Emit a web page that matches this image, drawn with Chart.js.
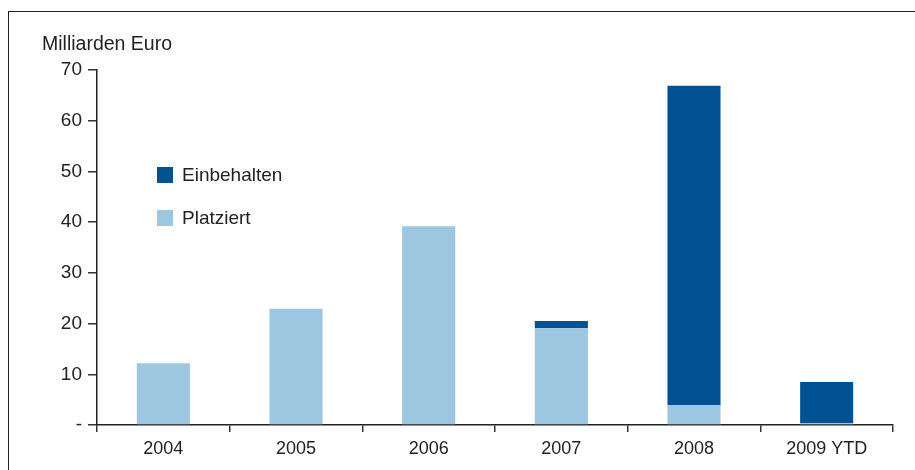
<!DOCTYPE html>
<html>
<head>
<meta charset="utf-8">
<script src="https://cdn.jsdelivr.net/npm/chart.js@4"></script>
<style>
  body { margin: 0; background: #fff; font-family: "Liberation Sans", Arial, sans-serif; color: #222; }
  #wrap { position: relative; width: 915px; height: 470px; overflow: hidden; }
  #frame { position: absolute; left: 8px; top: 11px; width: 920px; height: 470px;
           border-left: 1.5px solid #222; border-top: 1.5px solid #222; }
  #unit { position: absolute; left: 42px; top: 32px; font-size: 19.5px; }
  .legend { position: absolute; left: 157px; font-size: 19px; }
  .legend span { display: inline-block; width: 16px; height: 16px; margin-right: 9px; vertical-align: -2px; }
  canvas { position: absolute; left: 0; top: 0; }
</style>
</head>
<body>
<div id="wrap">
  <div id="frame"></div>
  <canvas id="chart" width="915" height="470"></canvas>
  <div id="unit">Milliarden Euro</div>
  <div class="legend" style="top:164px"><span style="background:#005191"></span>Einbehalten</div>
  <div class="legend" style="top:207px"><span style="background:#9dc6e0"></span>Platziert</div>
</div>
<script>
const years = ["2004", "2005", "2006", "2007", "2008", "2009 YTD"];
const platziert = [12.2, 22.9, 39.2, 19.1, 3.9, 0.4];
const einbehalten = [0, 0, 0, 1.4, 63.0, 8.1];
const yTicks = [0, 10, 20, 30, 40, 50, 60, 70];

const ctx = document.getElementById("chart").getContext("2d");

new Chart(ctx, {
  type: "bar",
  data: {
    labels: years,
    datasets: [
      { label: "Platziert", data: platziert, backgroundColor: "#9dc6e0" },
      { label: "Einbehalten", data: einbehalten, backgroundColor: "#005191" }
    ]
  },
  options: {
    responsive: false,
    animation: false,
    layout: { padding: { top: 70, right: 22, left: 0, bottom: 0 } },
    datasets: { bar: { barPercentage: 1, categoryPercentage: 0.4 } },
    plugins: { legend: { display: false }, tooltip: { enabled: false } },
    scales: {
      x: {
        stacked: true,
        afterFit: (s) => { s.height = 45; },
        border: { color: "#222", width: 1.5 },
        grid: { offset: true, drawOnChartArea: false, tickLength: 7, color: "#333", lineWidth: 1.5 },
        ticks: { color: "#222", font: { family: "Liberation Sans", size: 18 }, padding: 6 }
      },
      y: {
        stacked: true,
        min: 0,
        max: 70,
        afterFit: (s) => { s.width = 97; },
        afterBuildTicks: (s) => { s.ticks = yTicks.map(v => ({ value: v })); },
        border: { color: "#222", width: 1.5 },
        grid: { drawOnChartArea: false, tickLength: 9, color: "#333", lineWidth: 1.5 },
        ticks: {
          color: "#222",
          font: { family: "Liberation Sans", size: 19 },
          padding: 6,
          callback: (v) => v === 0 ? "-" : v
        }
      }
    }
  }
});
</script>
</body>
</html>
